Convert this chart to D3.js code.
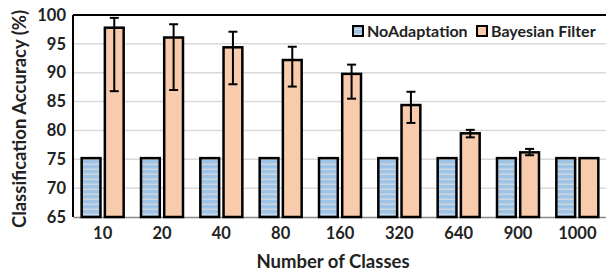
<!DOCTYPE html>
<html lang="en">
<head>
    <meta charset="UTF-8">
    <title>Classification Accuracy vs Number of Classes</title>
    <script src="https://d3js.org/d3.v7.min.js"></script>
    <style>
        body { margin: 0; background: #fff; }
        svg { display: block; font-family: Lato, "Open Sans", sans-serif; font-weight: bold; }
    </style>
</head>
<body>
    <svg width="606" height="274"></svg>
    <script>
        // data
        const classes = ["10", "20", "40", "80", "160", "320", "640", "900", "1000"];
        const seriesNames = ["NoAdaptation", "Bayesian Filter"];
        const noAdaptation = [75.2, 75.2, 75.2, 75.2, 75.2, 75.2, 75.2, 75.2, 75.2];
        const bayesian = [97.8, 96.1, 94.4, 92.2, 89.8, 84.4, 79.5, 76.2, 75.2];
        const bayesLow = [86.8, 87.0, 88.0, 87.6, 85.5, 81.3, 78.8, 75.7, null];
        const bayesHigh = [99.5, 98.4, 97.1, 94.5, 91.4, 86.7, 80.1, 76.8, null];
        const yTicks = [65, 70, 75, 80, 85, 90, 95, 100];

        const svg = d3.select("svg");
        const margin = {top: 15, right: -1, bottom: 57, left: 73};
        const width = 606 - margin.left - margin.right;
        const height = 274 - margin.top - margin.bottom;

        const defs = svg.append("defs");
        const pat = defs.append("pattern")
            .attr("id", "stripes")
            .attr("patternUnits", "userSpaceOnUse")
            .attr("width", 10).attr("height", 5);
        pat.append("rect").attr("width", 10).attr("height", 5).attr("fill", "#9dc3e6");
        pat.append("rect").attr("y", 3.5).attr("width", 10).attr("height", 1.5).attr("fill", "#cfd6de");

        const g = svg.append("g").attr("transform", `translate(${margin.left},${margin.top})`);

        const x = d3.scaleBand().domain(classes).range([0, width]);
        const xInner = d3.scaleBand().domain(seriesNames).range([x.bandwidth() / 2 - 21, x.bandwidth() / 2 + 21]).paddingInner(0.19);
        const y = d3.scaleLinear().domain([65, 100]).range([height, 0]);

        // gridlines
        g.append("g")
            .selectAll("line")
            .data(yTicks.filter(d => d > 65 && d < 100))
            .join("line")
            .attr("x1", 0).attr("x2", width)
            .attr("y1", d => y(d)).attr("y2", d => y(d))
            .attr("stroke", "#d9d9d9").attr("stroke-width", 1.5);

        // y axis labels
        const yAxis = g.append("g").call(d3.axisLeft(y).tickValues(yTicks).tickSize(0).tickPadding(7));
        yAxis.select(".domain").remove();
        yAxis.selectAll("text").attr("font-size", 16.5).attr("font-family", "Lato").attr("font-weight", "bold").attr("fill", "#222");

        // x axis
        const xAxis = g.append("g").attr("transform", `translate(0,${height})`)
            .call(d3.axisBottom(x).tickSize(0).tickPadding(10));
        xAxis.select(".domain").attr("stroke", "#888").attr("stroke-width", 1.5);
        xAxis.selectAll("text").attr("font-size", 16.5).attr("font-family", "Lato").attr("font-weight", "bold").attr("fill", "#222");

        // frame: top and left
        g.append("line").attr("x1", 0).attr("x2", width).attr("y1", 0).attr("y2", 0)
            .attr("stroke", "#000").attr("stroke-width", 2);
        g.append("line").attr("x1", 0).attr("x2", 0).attr("y1", 0).attr("y2", height)
            .attr("stroke", "#000").attr("stroke-width", 2);

        const groups = g.append("g").selectAll("g")
            .data(classes)
            .join("g")
            .attr("transform", d => `translate(${x(d)},0)`);

        groups.append("rect")
            .attr("x", xInner("NoAdaptation"))
            .attr("width", xInner.bandwidth())
            .attr("y", (d, i) => y(noAdaptation[i]))
            .attr("height", (d, i) => y(65) - y(noAdaptation[i]))
            .attr("fill", "url(#stripes)")
            .attr("stroke", "#000").attr("stroke-width", 2.5);

        groups.append("rect")
            .attr("x", xInner("Bayesian Filter"))
            .attr("width", xInner.bandwidth())
            .attr("y", (d, i) => y(bayesian[i]))
            .attr("height", (d, i) => y(65) - y(bayesian[i]))
            .attr("fill", "#f8cbad")
            .attr("stroke", "#000").attr("stroke-width", 2.5);

        // error bars
        const eb = groups.filter((d, i) => bayesLow[i] !== null).append("g")
            .attr("transform", `translate(${xInner("Bayesian Filter") + xInner.bandwidth() / 2},0)`)
            .attr("stroke", "#000").attr("stroke-width", 2);
        eb.append("line")
            .attr("y1", d => y(bayesLow[classes.indexOf(d)]))
            .attr("y2", d => y(bayesHigh[classes.indexOf(d)]));
        eb.append("line").attr("x1", -4.5).attr("x2", 4.5)
            .attr("y1", d => y(bayesLow[classes.indexOf(d)]))
            .attr("y2", d => y(bayesLow[classes.indexOf(d)]));
        eb.append("line").attr("x1", -4.5).attr("x2", 4.5)
            .attr("y1", d => y(bayesHigh[classes.indexOf(d)]))
            .attr("y2", d => y(bayesHigh[classes.indexOf(d)]));

        // axis titles
        svg.append("text")
            .attr("x", margin.left + width / 2 - 7).attr("y", 268)
            .attr("text-anchor", "middle").attr("font-size", 18.5).attr("fill", "#222")
            .text("Number of Classes");
        svg.append("text")
            .attr("transform", "translate(26,119) rotate(-90)")
            .attr("text-anchor", "middle").attr("font-size", 18.5).attr("fill", "#222")
            .text("Classification Accuracy (%)");

        // legend
        const legend = svg.append("g").attr("transform", "translate(352,25)");
        const legendFills = ["url(#stripes)", "#f8cbad"];
        const legendX = [0, 124];
        seriesNames.forEach((name, i) => {
            const item = legend.append("g").attr("transform", `translate(${legendX[i]},0)`);
            item.append("rect").attr("x", 1).attr("y", 1).attr("width", 10).attr("height", 10)
                .attr("fill", legendFills[i]).attr("stroke", "#000").attr("stroke-width", 2);
            item.append("text").attr("x", 15).attr("y", 11.5)
                .attr("font-size", 16).attr("fill", "#222").text(name);
        });
    </script>
</body>
</html>
